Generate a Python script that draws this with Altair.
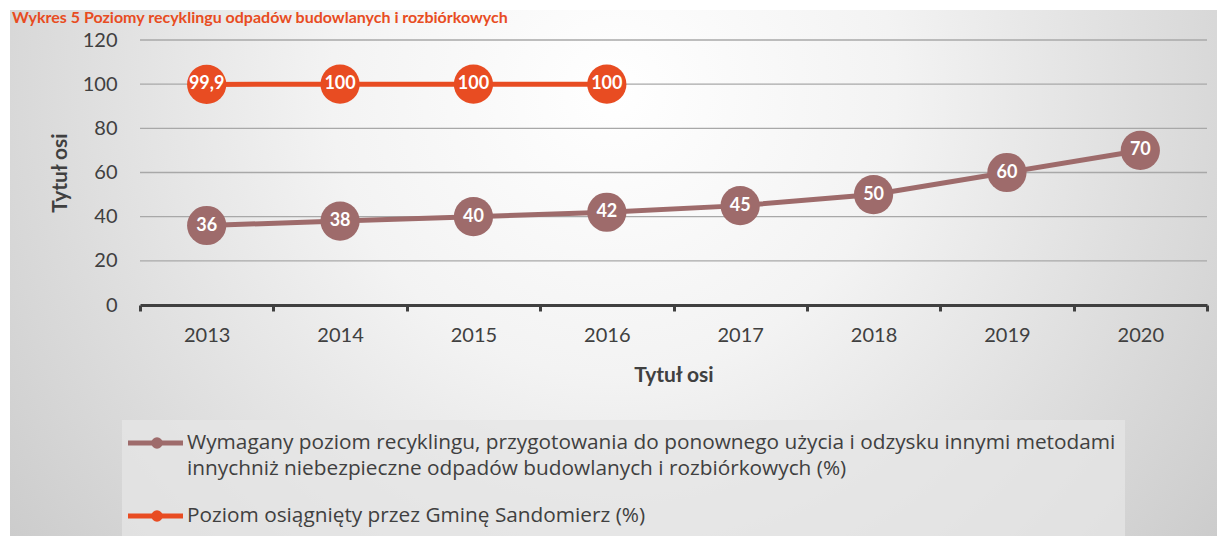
import altair as alt
import pandas as pd

# ---------------- data ----------------
YEARS = ["2013", "2014", "2015", "2016", "2017", "2018", "2019", "2020"]
REQUIRED = [36, 38, 40, 42, 45, 50, 60, 70]
ACHIEVED_YEARS = ["2013", "2014", "2015", "2016"]
ACHIEVED = [99.9, 100, 100, 100]
SERIES = [
    "Wymagany poziom recyklingu, przygotowania do ponownego użycia i odzysku innymi metodami innychniż niebezpieczne odpadów budowlanych i rozbiórkowych (%)",
    "Poziom osiągnięty przez Gminę Sandomierz (%)",
]
LEGEND_TEXT = [
    "Wymagany poziom recyklingu, przygotowania do ponownego użycia i odzysku innymi metodami\ninnychniż niebezpieczne odpadów budowlanych i rozbiórkowych (%)",
    "Poziom osiągnięty przez Gminę Sandomierz (%)",
]
Y_TICKS = [0, 20, 40, 60, 80, 100, 120]
TITLE = "Wykres 5 Poziomy recyklingu odpadów budowlanych i rozbiórkowych"
AXIS_TITLE = "Tytuł osi"
COLORS = ["#9E6B6B", "#E84C22"]

FONT = "Lato"
LEG_FONT = "Open Sans"
TXT = "#404040"

rows = [{"series": SERIES[0], "year": y, "value": v} for y, v in zip(YEARS, REQUIRED)]
rows += [{"series": SERIES[1], "year": y, "value": v} for y, v in zip(ACHIEVED_YEARS, ACHIEVED)]
df = pd.DataFrame(rows)

W, H = 1067, 265

X = alt.X(
    "year:N",
    sort=YEARS,
    scale=alt.Scale(type="band", domain=YEARS, paddingInner=0, paddingOuter=0),
    axis=alt.Axis(
        title=AXIS_TITLE, labelAngle=0, labelFontSize=20, labelColor=TXT, labelFont=FONT,
        labelPadding=24, labelBaseline="middle",
        domainColor=TXT, domainWidth=3, tickColor=TXT, tickWidth=3, tickSize=6,
        tickBand="extent", grid=False,
        titleFont=FONT, titleFontSize=21, titleFontWeight="bold", titleColor=TXT,
        titleY=70, titleBaseline="middle", zindex=1,
    ),
)
Y = alt.Y(
    "value:Q",
    scale=alt.Scale(domain=[0, 120], nice=False, zero=True),
    axis=alt.Axis(
        values=Y_TICKS, grid=False, domain=False, ticks=False,
        labelFontSize=20, labelColor=TXT, labelFont=FONT, labelPadding=23,
        title=AXIS_TITLE, titleFont=FONT, titleFontSize=21, titleFontWeight="bold",
        titleColor=TXT, titleX=-80, titleY=H / 2, titleAngle=-90,
        titleAlign="center", titleBaseline="middle", zindex=1,
    ),
)
COLOR = alt.Color("series:N", scale=alt.Scale(domain=SERIES, range=COLORS), legend=None)

one = pd.DataFrame({"k": [0]})

# background gradient
bg = alt.Chart(one).mark_rect(
    fill={
        "gradient": "radial",
        "x1": 0.5, "y1": 0.35, "r1": 0,
        "x2": 0.5, "y2": 0.35, "r2": 0.78,
        "stops": [
            {"offset": 0, "color": "#ffffff"},
            {"offset": 0.3, "color": "#f3f3f3"},
            {"offset": 1, "color": "#bcbcbc"},
        ],
    }
).encode(x=alt.value(-130), x2=alt.value(W + 10), y=alt.value(-30), y2=alt.value(H + 231))

legend_box = alt.Chart(one).mark_rect(fill="#e6e6e6", opacity=0.75).encode(
    x=alt.value(-18), x2=alt.value(985), y=alt.value(380), y2=alt.value(496)
)

grid = alt.Chart(pd.DataFrame({"value": Y_TICKS[1:]})).mark_rule(
    color="#a8a8a8", strokeWidth=1.3
).encode(y=Y)

base = alt.Chart(df).encode(x=X, y=Y, color=COLOR)
lines = base.mark_line(strokeWidth=5)
dots = base.mark_circle(size=1540, opacity=1)
labels = base.transform_calculate(
    label="replace(toString(datum.value), '.', ',')"
).mark_text(color="white", fontWeight="bold", fontSize=18, font=FONT, baseline="middle").encode(
    text="label:N", color=alt.value("white")
)

# legend
LEG_Y = [403, 476]
leg_layers = []
for i in range(2):
    d = pd.DataFrame({"series": [SERIES[i]], "t": [LEGEND_TEXT[i]]})
    c = alt.Chart(d)
    leg_layers.append(
        c.mark_rule(strokeWidth=5).encode(
            x=alt.value(-12), x2=alt.value(43), y=alt.value(LEG_Y[i]), color=COLOR
        )
    )
    leg_layers.append(
        c.mark_circle(size=130, opacity=1).encode(
            x=alt.value(17), y=alt.value(LEG_Y[i]), color=COLOR
        )
    )
    leg_layers.append(
        c.mark_text(
            align="left", baseline="middle", fontSize=20.8, font=LEG_FONT, color=TXT,
            lineBreak="\n", lineHeight=26,
        ).encode(x=alt.value(47), y=alt.value(LEG_Y[i]), text="t:N")
    )

title = alt.Chart(pd.DataFrame({"t": [TITLE]})).mark_text(
    align="left", baseline="middle", fontSize=16, fontWeight="bold", font=FONT, color="#E84C22"
).encode(x=alt.value(-128), y=alt.value(-22), text="t:N")

chart = alt.layer(bg, legend_box, grid, lines, dots, labels, *leg_layers, title).properties(
    width=W,
    height=H,
    padding={"left": 132, "top": 32, "right": 10, "bottom": 231},
    autosize=alt.AutoSizeParams(type="none"),
    background="white",
).configure_view(stroke=None)

chart.save("out.html", embed_options={"renderer": "svg", "actions": False})
